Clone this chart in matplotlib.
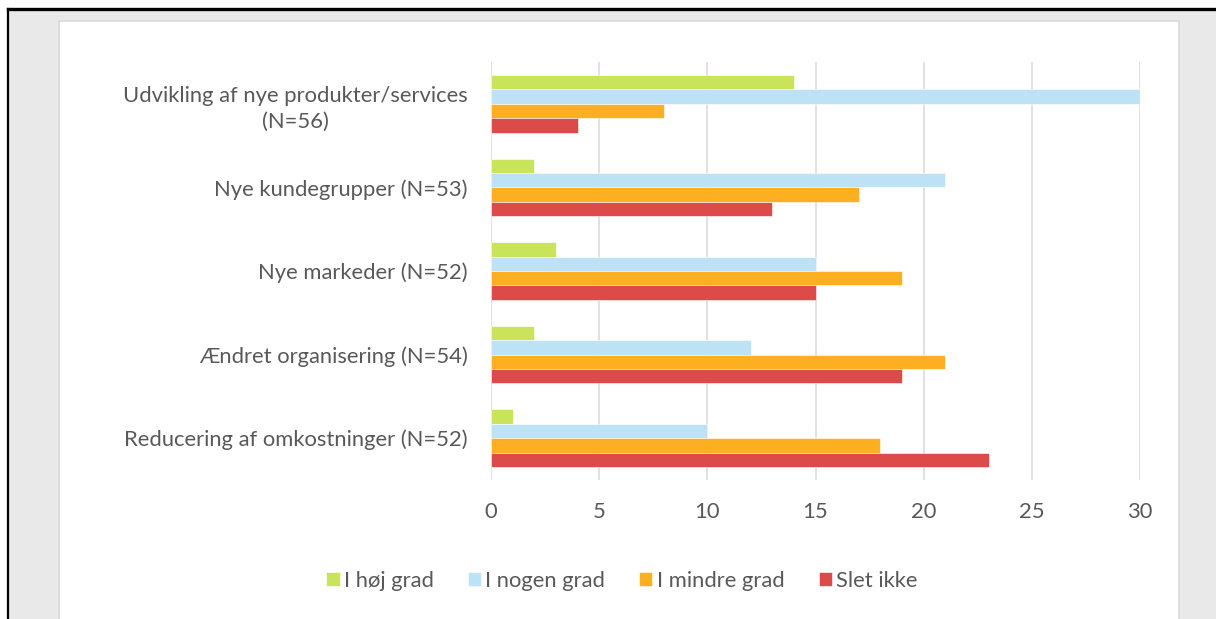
import matplotlib
matplotlib.use("Agg")
import matplotlib.pyplot as plt
from matplotlib.patches import Rectangle
import numpy as np

categories = [
    "Udvikling af nye produkter/services\n(N=56)",
    "Nye kundegrupper (N=53)",
    "Nye markeder (N=52)",
    "Ændret organisering (N=54)",
    "Reducering af omkostninger (N=52)",
]
series_names = ["I høj grad", "I nogen grad", "I mindre grad", "Slet ikke"]
hoj_grad = [14, 2, 3, 2, 1]
nogen_grad = [30, 21, 15, 12, 10]
mindre_grad = [8, 17, 19, 21, 18]
slet_ikke = [4, 13, 15, 19, 23]
x_ticks = [0, 5, 10, 15, 20, 25, 30]

colors = ["#C9E35B", "#BEE2F5", "#FDAF22", "#DC4A4A"]
text_color = "#595959"
font = ["Lato", "DejaVu Sans"]
fsize = 15.8

W, H = 1216, 619
fig = plt.figure(figsize=(W / 100, H / 100), dpi=100)
fig.patch.set_facecolor("white")

# outer frame: grey backdrop with black top/left rules
fig.add_artist(Rectangle((9 / W, 0), 1 - 9 / W, 1 - 10 / H, transform=fig.transFigure,
                         facecolor="#E9E9E9", edgecolor="none", zorder=0))
fig.add_artist(plt.Line2D([8 / W, 8 / W], [0, 1 - 8.5 / H], transform=fig.transFigure,
                          color="black", lw=1.6, zorder=1))
fig.add_artist(plt.Line2D([8 / W, 1], [1 - 8.5 / H, 1 - 8.5 / H], transform=fig.transFigure,
                          color="black", lw=2.4, zorder=1))
# white chart panel
fig.add_artist(Rectangle((59 / W, -0.01), (1179 - 59) / W, 1 - 20.5 / H + 0.01,
                         transform=fig.transFigure, facecolor="white",
                         edgecolor="#D9D9D9", lw=1.2, zorder=1))

ax = fig.add_axes([491 / W, 1 - 480 / H, (1140 - 491) / W, (480 - 62) / H])
ax.set_facecolor("none")
ax.set_zorder(2)

series = [hoj_grad, nogen_grad, mindre_grad, slet_ikke]
n_cat = len(categories)
y = np.arange(n_cat)
bar_h = 0.172
offsets = (np.arange(4) - 1.5) * bar_h
for vals, name, col, off in zip(series, series_names, colors, offsets):
    ax.barh(y + off, vals, height=bar_h, color=col, label=name,
            edgecolor="white", linewidth=0.4, zorder=3)

ax.set_xlim(0, 30)
ax.set_ylim(n_cat - 0.5, -0.5)
ax.set_xticks(x_ticks)
ax.set_xticklabels([str(t) for t in x_ticks])
ax.set_yticks(y)
ax.set_yticklabels(categories, ha="right", multialignment="center",
                   linespacing=1.4)
ax.xaxis.grid(True, color="#D9D9D9", lw=1.1, zorder=0)
ax.set_axisbelow(True)
for s in ax.spines.values():
    s.set_visible(False)
ax.tick_params(axis="both", length=0, colors=text_color, labelsize=fsize)
ax.tick_params(axis="x", pad=16)
ax.tick_params(axis="y", pad=(491 - 468) * 72 / 100)
for lab in ax.get_yticklabels() + ax.get_xticklabels():
    lab.set_fontfamily(font)
    lab.set_color(text_color)

leg = fig.legend(loc="center", bbox_to_anchor=(622 / W, 1 - 581 / H), ncol=4,
                 frameon=False, handlelength=0.6, handleheight=0.6,
                 handletextpad=0.2, columnspacing=1.55,
                 prop={"family": font, "size": fsize})
for t in leg.get_texts():
    t.set_color(text_color)

fig.savefig("out.png", dpi=100)
